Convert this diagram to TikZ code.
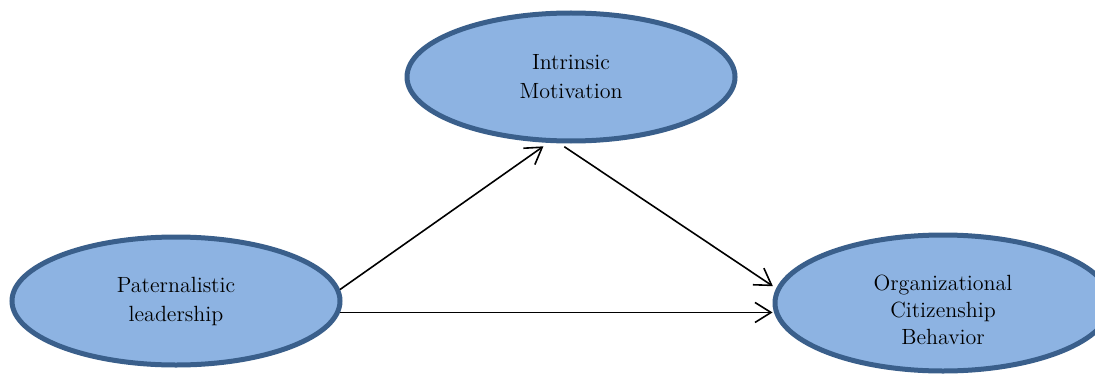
\documentclass[tikz,border=0pt]{standalone}
\usetikzlibrary{shapes.geometric,arrows.meta,positioning}
\definecolor{ovalfill}{HTML}{8DB3E2}
\definecolor{ovalline}{HTML}{3A5F8B}
\tikzset{
  construct/.style={ellipse,draw=ovalline,fill=ovalfill,line width=2.5pt,
    minimum width=164pt,minimum height=64pt,align=center,inner sep=0pt,
    font=\fontsize{11}{14.5}\selectfont},
  link/.style={-{Straight Barb[length=8pt,width=10pt]},line width=0.8pt},
}

\begin{document}
\begin{tikzpicture}[x=0.5pt,y=-0.5pt]

  %% canvas
  \useasboundingbox (0,0) rectangle (1095,374);
  \clip (0,0) rectangle (1095,374);

  %% constructs
  \node[construct] (im)  at (571,77)  {Intrinsic\\Motivation};
  \node[construct] (pl)  at (176,301) {Paternalistic\\leadership};
  \node[construct,minimum width=168pt,minimum height=68pt,
    font=\fontsize{11}{13.5}\selectfont] (ocb) at (943,303)
    {\raisebox{-4.5pt}[\height][\depth]{\begin{tabular}{@{}c@{}}Organizational\\Citizenship\\Behavior\end{tabular}}};

  %% paths
  \draw[link,shorten >=3pt] (pl.4) -- (im.-109);
  \draw[link,shorten <=3pt,shorten >=2pt] (im.-100) -- (ocb.175);
  \draw[link] (pl.-4) -- (pl.-4 -| ocb.west);

\end{tikzpicture}
\end{document}
